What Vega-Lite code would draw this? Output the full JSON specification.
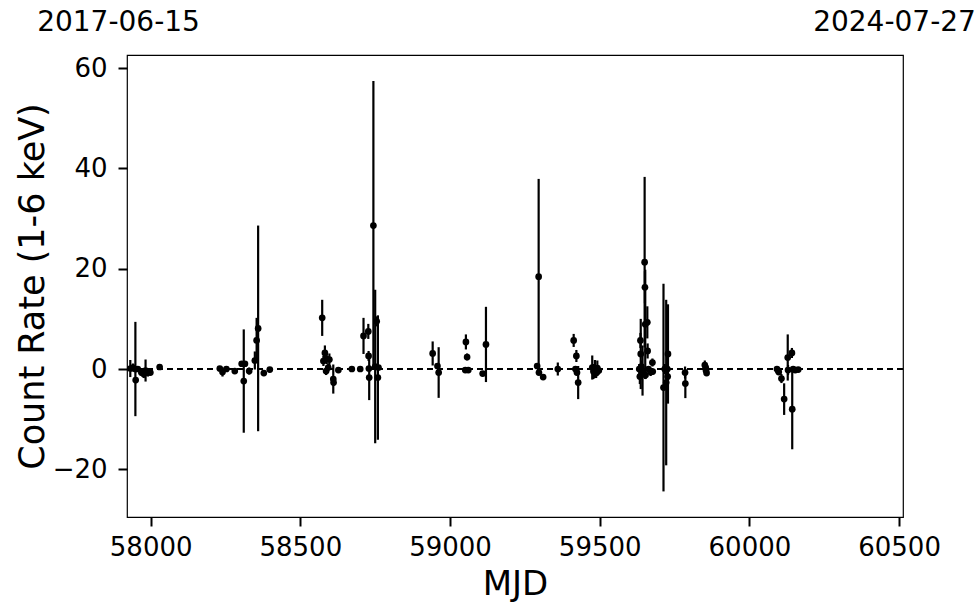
{
  "$schema": "https://vega.github.io/schema/vega-lite/v6.json",
  "autosize": {"type": "none"},
  "padding": {"left": 127, "top": 55, "right": 77, "bottom": 96},
  "width": 776,
  "height": 462,
  "config": {
    "font": "DejaVu Sans",
    "view": {"stroke": "black", "strokeWidth": 1.2},
    "axis": {"grid": false, "domain": false, "tickColor": "black", "tickWidth": 2, "tickSize": 9, "labelColor": "black", "titleColor": "black", "labelFont": "DejaVu Sans", "titleFont": "DejaVu Sans", "titleFontWeight": "normal"}
  },
  "data": {
    "values": [
      {"mjd": 57932, "rate": 0.1, "err": 1.7},
      {"mjd": 57941, "rate": 0.3, "err": 0.8},
      {"mjd": 57949, "rate": 0.0, "err": 9.4},
      {"mjd": 57950, "rate": -2.2, "err": 0.6},
      {"mjd": 57957, "rate": 0.0, "err": 0.5},
      {"mjd": 57969, "rate": -0.7, "err": 0.6},
      {"mjd": 57977, "rate": -1.0, "err": 0.8},
      {"mjd": 57983, "rate": -0.3, "err": 2.2},
      {"mjd": 57991, "rate": -0.7, "err": 0.8},
      {"mjd": 57999, "rate": -0.7, "err": 0.5},
      {"mjd": 58030, "rate": 0.4, "err": 0.3},
      {"mjd": 58231, "rate": 0.1, "err": 0.4},
      {"mjd": 58240, "rate": -0.6, "err": 0.9},
      {"mjd": 58253, "rate": 0.0, "err": 0.4},
      {"mjd": 58281, "rate": -0.4, "err": 0.4},
      {"mjd": 58304, "rate": 1.05, "err": 0.5},
      {"mjd": 58311, "rate": -2.4, "err": 10.3},
      {"mjd": 58315, "rate": 1.05, "err": 0.5},
      {"mjd": 58329, "rate": -0.4, "err": 0.7},
      {"mjd": 58348, "rate": 1.7, "err": 1.8},
      {"mjd": 58354, "rate": 5.7, "err": 4.5},
      {"mjd": 58359, "rate": 8.1, "err": 20.5},
      {"mjd": 58378, "rate": -0.8, "err": 0.6},
      {"mjd": 58398, "rate": -0.1, "err": 0.4},
      {"mjd": 58573, "rate": 10.2, "err": 3.6},
      {"mjd": 58577, "rate": 1.6, "err": 1.0},
      {"mjd": 58582, "rate": 3.2, "err": 1.5},
      {"mjd": 58588, "rate": 2.0, "err": 1.0},
      {"mjd": 58597, "rate": 1.9, "err": 1.2},
      {"mjd": 58586, "rate": -0.4, "err": 0.8},
      {"mjd": 58593, "rate": 0.3, "err": 0.8},
      {"mjd": 58610, "rate": -2.0, "err": 2.9},
      {"mjd": 58611, "rate": -2.7, "err": 0.6},
      {"mjd": 58627, "rate": -0.2, "err": 0.4},
      {"mjd": 58672, "rate": 0.0, "err": 0.3},
      {"mjd": 58700, "rate": 0.0, "err": 0.3},
      {"mjd": 58711, "rate": 6.6, "err": 3.6},
      {"mjd": 58727, "rate": 7.5, "err": 1.5},
      {"mjd": 58728, "rate": 2.6, "err": 1.0},
      {"mjd": 58729, "rate": 0.1, "err": 0.5},
      {"mjd": 58730, "rate": -1.7, "err": 4.5},
      {"mjd": 58744, "rate": 28.6, "err": 28.8},
      {"mjd": 58750, "rate": 0.5, "err": 15.3},
      {"mjd": 58755, "rate": 9.5, "err": 1.0},
      {"mjd": 58761, "rate": 0.3, "err": 0.5},
      {"mjd": 58759, "rate": -1.7, "err": 12.4},
      {"mjd": 58942, "rate": 3.1, "err": 2.4},
      {"mjd": 58958, "rate": 0.6, "err": 0.5},
      {"mjd": 58962, "rate": -0.7, "err": 5.05},
      {"mjd": 59053, "rate": 5.4, "err": 1.5},
      {"mjd": 59057, "rate": 2.4, "err": 0.7},
      {"mjd": 59051, "rate": -0.2, "err": 0.3},
      {"mjd": 59061, "rate": -0.2, "err": 0.3},
      {"mjd": 59109, "rate": -0.9, "err": 0.5},
      {"mjd": 59120, "rate": 4.9, "err": 7.5},
      {"mjd": 59291, "rate": 0.6, "err": 0.5},
      {"mjd": 59296, "rate": 18.4, "err": 19.5},
      {"mjd": 59297, "rate": -0.7, "err": 0.5},
      {"mjd": 59311, "rate": -1.6, "err": 0.4},
      {"mjd": 59360, "rate": 0.0, "err": 1.3},
      {"mjd": 59413, "rate": 5.7, "err": 1.3},
      {"mjd": 59422, "rate": 2.6, "err": 1.2},
      {"mjd": 59419, "rate": 0.0, "err": 0.6},
      {"mjd": 59424, "rate": -0.7, "err": 0.6},
      {"mjd": 59428, "rate": -2.7, "err": 3.3},
      {"mjd": 59475, "rate": 0.3, "err": 2.4},
      {"mjd": 59479, "rate": -0.5, "err": 1.5},
      {"mjd": 59484, "rate": 0.0, "err": 1.8},
      {"mjd": 59488, "rate": -0.8, "err": 1.0},
      {"mjd": 59492, "rate": 0.2, "err": 1.5},
      {"mjd": 59497, "rate": -0.3, "err": 0.8},
      {"mjd": 59632, "rate": 0.0, "err": 1.0},
      {"mjd": 59634, "rate": -1.5, "err": 1.5},
      {"mjd": 59636, "rate": 5.7, "err": 1.5},
      {"mjd": 59637, "rate": 3.0, "err": 7.0},
      {"mjd": 59639, "rate": 0.5, "err": 1.2},
      {"mjd": 59643, "rate": -0.3, "err": 5.0},
      {"mjd": 59650, "rate": 21.3, "err": 17.0},
      {"mjd": 59651, "rate": 16.3, "err": 3.2},
      {"mjd": 59652, "rate": 8.9, "err": 10.9},
      {"mjd": 59659, "rate": 9.3, "err": 3.2},
      {"mjd": 59660, "rate": 3.6, "err": 1.5},
      {"mjd": 59653, "rate": -1.2, "err": 0.8},
      {"mjd": 59663, "rate": 0.0, "err": 0.6},
      {"mjd": 59670, "rate": -0.6, "err": 0.8},
      {"mjd": 59676, "rate": 1.3, "err": 0.8},
      {"mjd": 59677, "rate": -0.5, "err": 0.6},
      {"mjd": 59713, "rate": -3.7, "err": 20.7},
      {"mjd": 59722, "rate": -2.7, "err": 16.5},
      {"mjd": 59728, "rate": 3.0, "err": 9.9},
      {"mjd": 59717, "rate": 0.0, "err": 1.0},
      {"mjd": 59726, "rate": 0.0, "err": 1.0},
      {"mjd": 59727, "rate": -1.5, "err": 1.0},
      {"mjd": 59785, "rate": -0.7, "err": 1.2},
      {"mjd": 59786, "rate": -2.9, "err": 2.9},
      {"mjd": 59851, "rate": 0.8, "err": 0.9},
      {"mjd": 59854, "rate": 0.3, "err": 0.8},
      {"mjd": 59855, "rate": -0.3, "err": 0.6},
      {"mjd": 59857, "rate": -0.8, "err": 0.5},
      {"mjd": 60092, "rate": 0.0, "err": 0.5},
      {"mjd": 60096, "rate": -0.3, "err": 0.5},
      {"mjd": 60098, "rate": -0.6, "err": 0.6},
      {"mjd": 60107, "rate": -1.9, "err": 0.9},
      {"mjd": 60116, "rate": -6.0, "err": 3.15},
      {"mjd": 60128, "rate": 2.3, "err": 4.6},
      {"mjd": 60129, "rate": -0.2, "err": 1.0},
      {"mjd": 60142, "rate": 3.2, "err": 1.0},
      {"mjd": 60143, "rate": -8.0, "err": 8.0},
      {"mjd": 60146, "rate": 0.0, "err": 0.5},
      {"mjd": 60153, "rate": -0.2, "err": 0.4},
      {"mjd": 60163, "rate": -0.1, "err": 0.4}
    ]
  },
  "layer": [
    {
      "mark": {"type": "rule", "color": "black", "strokeWidth": 1.5, "strokeDash": [6, 4]},
      "encoding": {"y": {"datum": 0, "type": "quantitative"}}
    },
    {
      "mark": {"type": "errorbar", "color": "black", "thickness": 2.2, "clip": true},
      "encoding": {
        "x": {"field": "mjd", "type": "quantitative", "scale": {"domain": [57921, 60513], "nice": false, "zero": false},
              "axis": {"orient": "top", "values": [57921, 60513], "labelExpr": "datum.value < 59000 ? '2017-06-15' : '2024-07-27'", "labelFlush": false, "ticks": false, "labelFontSize": 28, "labelPadding": 19, "labelOffset": -9, "title": null}},
        "y": {"field": "rate", "type": "quantitative", "title": "Count Rate (1-6 keV)", "scale": {"domain": [-29.5, 62.6], "nice": false, "zero": false}},
        "yError": {"field": "err"}
      }
    },
    {
      "mark": {"type": "point", "filled": true, "shape": "circle", "color": "black", "size": 45, "opacity": 1, "clip": true},
      "encoding": {
        "x": {"field": "mjd", "type": "quantitative",
              "axis": {"orient": "bottom", "values": [58000, 58500, 59000, 59500, 60000, 60500], "format": "d", "labelFontSize": 26, "labelPadding": 8, "labelFlush": false, "title": "MJD", "titleFontSize": 34, "titleX": 388, "titleY": 67, "titleBaseline": "middle"}},
        "y": {"field": "rate", "type": "quantitative",
              "axis": {"values": [-20, 0, 20, 40, 60], "labelFontSize": 26, "labelPadding": 11, "title": "Count Rate (1-6 keV)", "titleFontSize": 35, "titleX": -95, "titleY": 231, "titleBaseline": "middle", "titleAngle": -90}}
      }
    }
  ]
}
